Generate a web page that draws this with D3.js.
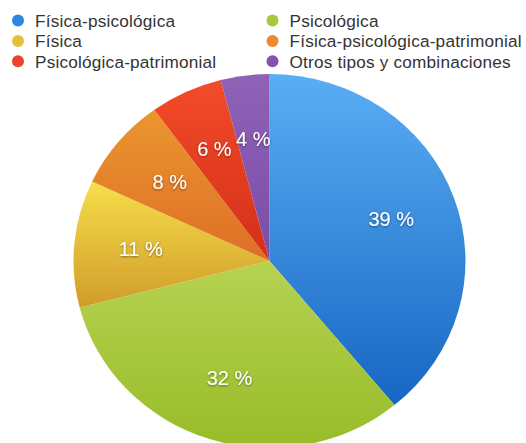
<!DOCTYPE html>
<html><head><meta charset="utf-8">
<script src="https://cdn.jsdelivr.net/npm/d3@7"></script>
<style>html,body{margin:0;padding:0;background:#fff;}svg{display:block;}</style>
</head><body>
<svg id="c" width="526" height="443"></svg>
<script>
const categories = ["Física-psicológica","Psicológica","Física","Física-psicológica-patrimonial","Psicológica-patrimonial","Otros tipos y combinaciones"];
const values = [39, 32, 11, 8, 6, 4];
const labels = ["39 %","32 %","11 %","8 %","6 %","4 %"];
const legendOrder = [0,1,2,3,4,5];
const topColors = ["#5aaef3","#b6d252","#f7de4a","#ea962f","#f24c2a","#8e62b6"];
const bottomColors = ["#1766c4","#98bc28","#d09c2a","#df6e26","#d42e18","#7a4ea6"];
const dotColors = ["#2e88e2","#a6c83c","#e6c03a","#ec8a30","#e8452a","#8652b0"];

const svg = d3.select("#c");
const cx = 269.5, cy = 261, rx = 196, ry = 187;

const defs = svg.append("defs");
categories.forEach((c,i)=>{
  const g = defs.append("linearGradient").attr("id","g"+i).attr("x1",0).attr("y1",0).attr("x2",0).attr("y2",1);
  g.append("stop").attr("offset","0%").attr("stop-color",topColors[i]);
  g.append("stop").attr("offset","100%").attr("stop-color",bottomColors[i]);
});
const f = defs.append("filter").attr("id","sh").attr("x","-20%").attr("y","-20%").attr("width","140%").attr("height","140%");
f.append("feDropShadow").attr("dx",0).attr("dy",1).attr("stdDeviation",0.8).attr("flood-color","#000").attr("flood-opacity",0.45);

const pie = d3.pie().sort(null).value(d=>d)(values);
const arc = d3.arc().innerRadius(0).outerRadius(rx);
const gPie = svg.append("g").attr("transform",`translate(${cx},${cy}) scale(1,${ry/rx})`);
gPie.selectAll("path").data(pie).join("path")
  .attr("d",arc).attr("fill",(d,i)=>`url(#g${i})`);

const lab = d3.arc().innerRadius(rx*0.66).outerRadius(rx*0.66);
svg.append("g").selectAll("text").data(pie).join("text")
  .attr("x",d=>cx+lab.centroid(d)[0])
  .attr("y",d=>cy+lab.centroid(d)[1]*ry/rx)
  .attr("text-anchor","middle").attr("dominant-baseline","central")
  .attr("font-family","'Liberation Sans', Arial, sans-serif").attr("font-size",20)
  .attr("fill","#fff").attr("filter","url(#sh)")
  .text((d,i)=>labels[i]);

const leg = svg.append("g").attr("font-family","'Liberation Sans', Arial, sans-serif").attr("font-size",17.2).attr("letter-spacing",0.2).attr("fill","#333");
legendOrder.forEach((k,j)=>{
  const col = j%2, row = Math.floor(j/2);
  const x = col===0 ? 18 : 272.5;
  const y = 20.5 + row*20.4;
  leg.append("circle").attr("cx",x).attr("cy",y).attr("r",6).attr("fill",dotColors[k]);
  leg.append("text").attr("x",x+17).attr("y",y+6.2).text(categories[k]);
});
</script>
</body></html>
